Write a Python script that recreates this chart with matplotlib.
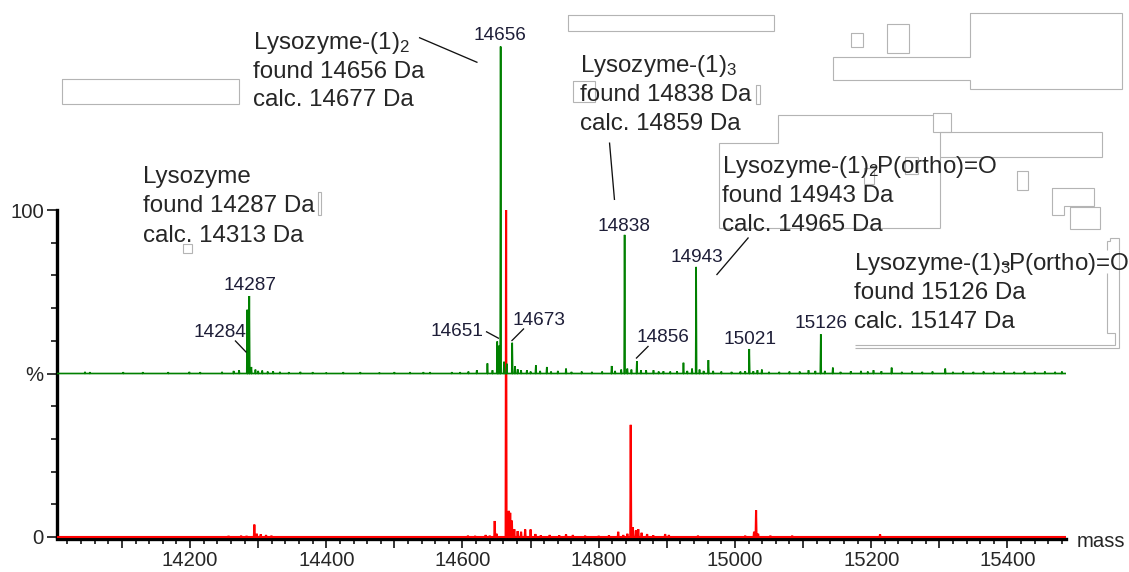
import matplotlib
matplotlib.use("Agg")
import matplotlib.pyplot as plt
from matplotlib.lines import Line2D
from matplotlib.ticker import FixedLocator, MultipleLocator, FuncFormatter

plt.rcParams["font.family"] = ["Liberation Sans", "DejaVu Sans"]
plt.rcParams["mathtext.fontset"] = "custom"
plt.rcParams["mathtext.rm"] = "Liberation Sans"
plt.rcParams["mathtext.it"] = "Liberation Sans:italic"
plt.rcParams["mathtext.bf"] = "Liberation Sans:bold"

# ---------------------------------------------------------------- data
# upper trace (green): centroid masses in Da and relative intensities in %
green_mass = [14045.8, 14053, 14102, 14130.6, 14168, 14199, 14215, 14247, 14264, 14272,
              14284, 14287, 14290, 14296, 14300, 14306, 14314, 14322, 14332, 14345,
              14362, 14380, 14400, 14425, 14450, 14478, 14500, 14523, 14542.6, 14552.4,
              14584.3, 14596.5, 14608.7, 14621, 14636.6, 14644, 14651, 14653.5, 14656, 14661,
              14665, 14673, 14677, 14681, 14686, 14694.5, 14700, 14707.7, 14714, 14723.8,
              14730, 14740, 14752, 14760, 14775, 14790, 14805, 14819, 14824, 14833,
              14838, 14842, 14848, 14856, 14862, 14869.6, 14880.4, 14888, 14895, 14905,
              14915, 14924.4, 14930, 14937, 14943, 14948, 14954, 14961, 14968, 14980,
              14995, 15008, 15015, 15021, 15027, 15033, 15039.5, 15050, 15065, 15080,
              15095, 15108, 15118, 15126, 15132, 15143.7, 15155, 15170, 15185, 15195,
              15203.4, 15215, 15230, 15245, 15260, 15275, 15290, 15308.7, 15320, 15335,
              15350, 15365, 15380, 15395, 15410, 15425, 15440, 15455, 15470, 15480]
green_int = [0.5, 0.4, 0.4, 0.4, 0.4, 0.5, 0.4, 0.5, 0.8, 1.0,
             19.5, 23.7, 2.0, 1.2, 0.8, 0.9, 0.6, 0.7, 0.5, 0.4,
             0.5, 0.4, 0.3, 0.4, 0.4, 0.3, 0.4, 0.4, 0.4, 0.4,
             0.4, 0.4, 0.6, 1.0, 3.1, 1.0, 9.8, 8.5, 100.0, 3.6,
             3.0, 9.4, 2.2, 1.3, 1.0, 1.0, 0.6, 2.5, 0.8, 2.0,
             0.6, 0.8, 1.5, 0.5, 0.6, 0.5, 0.6, 2.3, 0.8, 1.2,
             42.4, 1.5, 1.2, 3.8, 1.0, 1.0, 1.0, 0.6, 0.7, 0.6,
             0.7, 3.3, 0.8, 1.5, 32.6, 1.2, 0.8, 4.1, 0.8, 0.6,
             0.5, 0.6, 0.7, 7.5, 0.7, 1.0, 1.2, 0.5, 0.5, 0.6,
             0.6, 1.0, 0.8, 12.0, 0.8, 1.8, 0.5, 0.7, 0.8, 0.6,
             1.0, 0.7, 1.8, 0.5, 0.6, 0.5, 0.6, 1.5, 0.5, 0.6,
             0.5, 0.6, 0.5, 0.6, 0.5, 0.6, 0.5, 0.6, 0.5, 0.6]

# lower trace (red)
red_mass = [14256.6, 14275, 14283, 14294.4, 14298, 14303.8, 14311.6, 14319.5, 14608, 14618.5,
            14634, 14640, 14647.3, 14650, 14664, 14668, 14670, 14672.5, 14676, 14681,
            14686, 14692, 14700, 14707, 14715, 14728, 14742, 14752, 14762, 14780,
            14800, 14815, 14828.6, 14836, 14842, 14847, 14850, 14854.5, 14858, 14863,
            14871, 14880, 14897.5, 14903, 14945.7, 15015, 15028, 15031, 15034, 15052,
            15084, 15213]
red_int = [0.3, 0.4, 0.3, 3.8, 1.0, 0.8, 0.6, 0.4, 0.4, 0.3,
           0.6, 0.4, 4.9, 1.0, 100.0, 8.0, 7.4, 5.0, 2.4, 1.8,
           1.6, 2.3, 2.3, 0.9, 0.5, 0.6, 0.5, 0.8, 0.6, 0.4,
           0.3, 0.5, 1.6, 0.6, 1.0, 34.3, 3.0, 2.0, 2.4, 1.3,
           0.9, 0.5, 0.9, 0.6, 0.4, 0.4, 1.6, 8.2, 1.0, 0.4,
           0.4, 0.8]

# labelled peaks of the upper trace
peak_labels = [14284, 14287, 14651, 14656, 14673, 14838, 14856, 14943, 15021, 15126]

# assignments: species, found and calculated mass (Da)
species = ["Lysozyme", r"Lysozyme-(1)$_2$", r"Lysozyme-(1)$_3$",
           r"Lysozyme-(1)$_2\!\!\!$-P(ortho)=O", r"Lysozyme-(1)$_3\!\!\!$-P(ortho)=O"]
found_da = [14287, 14656, 14838, 14943, 15126]
calc_da = [14313, 14677, 14859, 14965, 15147]

x_tick_labels = [14200, 14400, 14600, 14800, 15000, 15200, 15400]
y_tick_values = [0, 50, 100]
y_tick_labels = ["0", "%", "100"]

# ---------------------------------------------------------------- layout
W, H = 1129, 572
MASS_MIN, MASS_MAX = 14004.7, 15486.0
PX_PER_PCT = 3.27
GREEN_OFFSET = 50.0
TXT = "#262626"
LBL = "#1e1e38"
GREEN = "#008000"
RED = "#ff0000"


def fp(x, y):
    """pixel position (from top-left) -> figure fraction"""
    return x / W, 1 - y / H


def stick_profile(masses, heights, base, half=0.7):
    xs, ys = [MASS_MIN], [base]
    for m, h in sorted(zip(masses, heights)):
        xs += [m - half, m, m + half]
        ys += [base, base + h, base]
    xs.append(MASS_MAX)
    ys.append(base)
    return xs, ys


fig = plt.figure(figsize=(W / 100, H / 100), dpi=100)
fig.patch.set_facecolor("white")
ax = fig.add_axes([57 / W, (H - 539) / H, (1066 - 57) / W, 539 / H])
ax.set_xlim(MASS_MIN, MASS_MAX)
ax.set_ylim(-2 / PX_PER_PCT, 537 / PX_PER_PCT)

gx, gy = stick_profile(green_mass, green_int, GREEN_OFFSET)
rx, ry = stick_profile(red_mass, red_int, 0.0)
ax.plot(rx, ry, color=RED, lw=1.5, solid_joinstyle="miter", zorder=3)
ax.plot(gx, gy, color=GREEN, lw=1.2, solid_joinstyle="miter", zorder=4)

# axes styling
for s in ("top", "right"):
    ax.spines[s].set_visible(False)
for s in ("left", "bottom"):
    ax.spines[s].set_linewidth(2.4)
ax.spines["left"].set_bounds(0, 100)

ax.xaxis.set_major_locator(MultipleLocator(100))
ax.xaxis.set_minor_locator(MultipleLocator(20))
ax.xaxis.set_major_formatter(FuncFormatter(
    lambda v, p: f"{int(round(v))}" if int(round(v)) in x_tick_labels else ""))
ax.yaxis.set_major_locator(FixedLocator(y_tick_values))
ax.yaxis.set_minor_locator(FixedLocator([v for v in range(10, 100, 10) if v != 50]))
ax.set_yticklabels(y_tick_labels)
ax.tick_params(axis="x", which="major", length=6.5, width=1.1, pad=2.5,
               labelsize=14.6, labelcolor=TXT)
ax.tick_params(axis="x", which="minor", length=3.5, width=1.1)
ax.tick_params(axis="y", which="major", length=7.5, width=1.1, pad=2,
               labelsize=14.6, labelcolor=TXT)
ax.tick_params(axis="y", which="minor", length=4.2, width=1.1)

fig.text(*fp(1077, 547), "mass", fontsize=14.6, color=TXT, va="baseline", ha="left")

# peak labels (centre x, baseline y in pixels)
label_pos = {14284: (220, 337), 14287: (250, 289.5), 14651: (457, 336),
             14656: (500, 39.5), 14673: (539, 325), 14838: (624, 231),
             14856: (663, 342.5), 14943: (697, 262), 15021: (750, 344),
             15126: (821, 328.5)}
for m in peak_labels:
    x, y = label_pos[m]
    fig.text(*fp(x, y), f"{m}", fontsize=13.7, color=LBL, ha="center", va="baseline")

# assignment text blocks (left x, first baseline, line step)
block_pos = [(143, 183.5, 29), (253, 49.5, 28.3), (580, 72, 29),
             (722.5, 173.5, 28.7), (854, 270, 29.2)]
for name, fnd, clc, (x, y0, dy) in zip(species, found_da, calc_da, block_pos):
    for i, line in enumerate([name, f"found {fnd} Da", f"calc. {clc} Da"]):
        fig.text(*fp(x, y0 + i * dy), line, fontsize=17.4, color=TXT,
                 ha="left", va="baseline")


def fig_line(pts, color, lw):
    xs = [p[0] / W for p in pts]
    ys = [1 - p[1] / H for p in pts]
    fig.add_artist(Line2D(xs, ys, transform=fig.transFigure, color=color,
                          lw=lw, solid_capstyle="butt", solid_joinstyle="miter"))


# leader lines
leaders = [[(419, 37.5), (477.5, 62.5)], [(609.5, 142.5), (614.5, 200)],
           [(748.5, 237.5), (716.5, 275)], [(235, 340.5), (246.5, 352.5)],
           [(486, 331.5), (499, 338.5)], [(524, 328.5), (511.5, 341)],
           [(648.5, 346), (636, 358.5)]]
for pts in leaders:
    fig_line(pts, "#111111", 0.95)


def rect(x0, y0, x1, y1):
    return [(x0, y0), (x1, y0), (x1, y1), (x0, y1), (x0, y0)]


# light frame outlines around the text boxes
frames = [
    rect(61.7, 79.3, 239.3, 104.3),
    rect(568, 14.5, 774, 31),
    rect(851, 33.3, 862.7, 46.7),
    rect(887.3, 24, 909, 53.3),
    [(970, 13.3), (1121.7, 13.3), (1121.7, 89.3), (970, 89.3), (970, 80),
     (833.3, 80), (833.3, 56.7), (970, 56.7), (970, 13.3)],
    [(719.3, 228.3), (719.3, 142.7), (778.3, 142.7), (778.3, 115), (933.3, 115)],
    rect(933.3, 112.7, 951, 131.7),
    [(940, 228.3), (940, 131.7), (1101.7, 131.7), (1101.7, 156.7), (940, 156.7)],
    [(940, 228.3), (719.3, 228.3)],
    rect(905, 157, 918, 174),
    rect(864, 168, 874, 184),
    rect(1016.7, 171, 1027.7, 190),
    [(1051.7, 188.3), (1094.3, 188.3), (1094.3, 206), (1064, 206), (1064, 215),
     (1051.7, 215), (1051.7, 188.3)],
    rect(1070, 207.3, 1100, 229),
    [(1106.7, 250), (1106.7, 241), (1110, 241), (1110, 238.3), (1119, 238.3), (1119, 250)],
    [(855, 345), (1115, 345), (1115, 333.3), (1106.7, 333.3), (1106.7, 273.3)],
    [(855, 348.3), (1119, 348.3), (1119, 250)],
    rect(573.3, 81, 595, 101.7),
    rect(756, 85, 760, 104),
    rect(183.3, 244.3, 191.7, 252.7),
    rect(318, 192, 321, 215),
]
for pts in frames:
    fig_line(pts, "#b4b4b4", 0.8)

fig.savefig("out.png", dpi=100, facecolor="white")
